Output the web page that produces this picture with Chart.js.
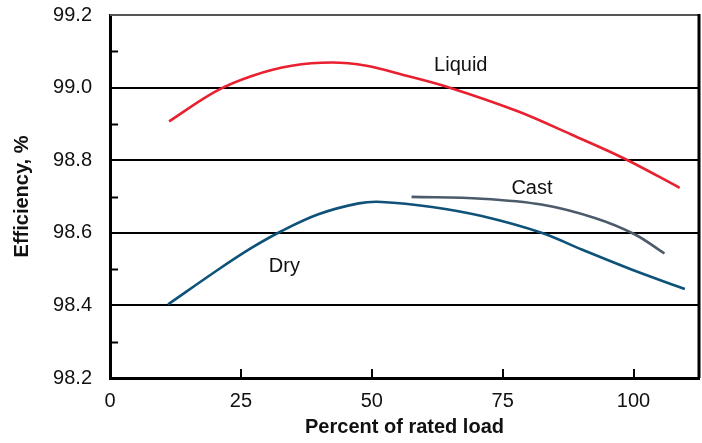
<!DOCTYPE html>
<html>
<head>
<meta charset="utf-8">
<script src="https://cdn.jsdelivr.net/npm/chart.js@4"></script>
<style>
  html, body { margin: 0; padding: 0; background: #fff; }
  #wrap { width: 702px; height: 443px; }
</style>
</head>
<body>
<div id="wrap"><canvas id="effChart" width="702" height="443"></canvas></div>
<script>
// values
const liquidX = [11.3, 20.1, 27.1, 34.7, 42.4, 49.0, 56.0, 64.6, 78.0, 88.2, 98.3, 108.8];
const liquidY = [98.907, 98.989, 99.032, 99.060, 99.069, 99.060, 99.035, 99.001, 98.934, 98.870, 98.804, 98.724];

const dryX = [11.1, 20.7, 27.1, 32.8, 39.8, 47.5, 51.9, 61.5, 71.0, 82.4, 90.1, 99.6, 109.8];
const dryY = [98.403, 98.499, 98.559, 98.605, 98.651, 98.681, 98.685, 98.671, 98.646, 98.600, 98.554, 98.499, 98.445];

const castX = [57.6, 71.0, 82.4, 92.6, 100.2, 105.9];
const castY = [98.699, 98.694, 98.678, 98.641, 98.596, 98.543];

const xTicks = [0, 25, 50, 75, 100];
const yTicks = [98.2, 98.4, 98.6, 98.8, 99.0, 99.2];
const yMinor = [98.3, 98.5, 98.7, 98.9, 99.1];

const seriesLabels = [
    { text: "Liquid", x: 67, y: 99.062 },
    { text: "Cast", x: 80.6, y: 98.722 },
    { text: "Dry", x: 33.3, y: 98.507 }
];

const FONT = "'Liberation Sans', Arial, Helvetica, sans-serif";

function toPoints(xs, ys) {
    return xs.map((x, i) => ({ x, y: ys[i] }));
}

// frame, inward ticks and curve labels
const framePlugin = {
    id: "frame",
    afterDraw(chart) {
        const { ctx, chartArea: a, scales } = chart;
        const xs = scales.x, ys = scales.y;
        ctx.save();
        ctx.strokeStyle = "#000";
        ctx.lineWidth = 2;
        // minor y ticks, pointing in
        yMinor.forEach(v => {
            const py = Math.round(ys.getPixelForValue(v)) + 0.5;
            ctx.beginPath();
            ctx.moveTo(a.left, py);
            ctx.lineTo(a.left + 8, py);
            ctx.stroke();
        });
        // x ticks, pointing up
        xTicks.slice(1).forEach(v => {
            const px = Math.round(xs.getPixelForValue(v));
            ctx.beginPath();
            ctx.moveTo(px, a.bottom);
            ctx.lineTo(px, a.bottom - 9);
            ctx.stroke();
        });
        // top border (grey), right border (black)
        ctx.strokeStyle = "#555";
        ctx.lineWidth = 2;
        ctx.beginPath();
        ctx.moveTo(a.left, a.top);
        ctx.lineTo(a.right, a.top);
        ctx.stroke();
        ctx.strokeStyle = "#000";
        ctx.lineWidth = 3;
        ctx.beginPath();
        ctx.moveTo(a.right, a.top - 1);
        ctx.lineTo(a.right, a.bottom);
        ctx.stroke();

        ctx.fillStyle = "#111";
        ctx.font = "20px " + FONT;
        ctx.textAlign = "center";
        ctx.textBaseline = "middle";
        seriesLabels.forEach(l => {
            ctx.fillText(l.text, xs.getPixelForValue(l.x), ys.getPixelForValue(l.y));
        });
        ctx.restore();
    }
};

const lineStyle = {
    showLine: true,
    pointRadius: 0,
    borderWidth: 2.6,
    tension: 0.35,
    fill: false
};

new Chart(document.getElementById("effChart"), {
    type: "scatter",
    data: {
        datasets: [
            { label: "Liquid", data: toPoints(liquidX, liquidY), borderColor: "#e8202f", ...lineStyle },
            { label: "Dry", data: toPoints(dryX, dryY), borderColor: "#0e5179", ...lineStyle },
            { label: "Cast", data: toPoints(castX, castY), borderColor: "#4b5b6b", ...lineStyle }
        ]
    },
    options: {
        responsive: false,
        animation: false,
        layout: { padding: { top: 15, right: 3, left: 0, bottom: 0 } },
        plugins: {
            legend: { display: false },
            tooltip: { enabled: false }
        },
        scales: {
            x: {
                type: "linear",
                min: 0,
                max: 112.5,
                afterBuildTicks(scale) {
                    scale.ticks = xTicks.map(v => ({ value: v }));
                },
                afterFit(scale) {
                    scale.height = 65;
                    scale.paddingLeft = 0;
                    scale.paddingRight = 0;
                },
                grid: { display: false, drawTicks: false },
                border: { display: true, color: "#000", width: 3 },
                ticks: {
                    color: "#111",
                    padding: 11,
                    font: { family: FONT, size: 20 }
                },
                title: {
                    display: true,
                    text: "Percent of rated load",
                    color: "#111",
                    font: { family: FONT, size: 20, weight: "bold" },
                    padding: { top: 6 }
                }
            },
            y: {
                type: "linear",
                min: 98.2,
                max: 99.2,
                afterBuildTicks(scale) {
                    scale.ticks = yTicks.map(v => ({ value: v }));
                },
                afterFit(scale) {
                    scale.width = 110;
                    scale.paddingTop = 0;
                    scale.paddingBottom = 0;
                },
                grid: {
                    drawTicks: false,
                    lineWidth: 2,
                    color: ctx => (ctx.tick && (ctx.tick.value === 98.2 || ctx.tick.value === 99.2)) ? "rgba(0,0,0,0)" : "#000"
                },
                border: { display: true, color: "#000", width: 3 },
                ticks: {
                    color: "#111",
                    padding: 18,
                    font: { family: FONT, size: 20 },
                    callback: v => v.toFixed(1)
                },
                title: {
                    display: true,
                    text: "Efficiency, %",
                    color: "#111",
                    font: { family: FONT, size: 20, weight: "bold" },
                    padding: { top: 10, bottom: 0 }
                }
            }
        }
    },
    plugins: [framePlugin]
});
</script>
</body>
</html>
